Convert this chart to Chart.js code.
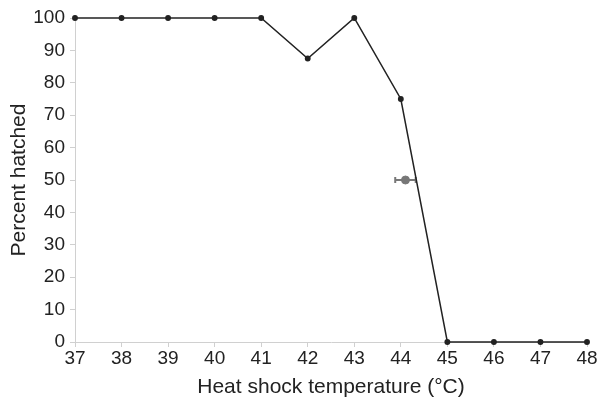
<!DOCTYPE html>
<html>
<head>
<meta charset="utf-8">
<script src="https://cdn.jsdelivr.net/npm/chart.js@4"></script>
<style>
  html, body { margin:0; padding:0; background:#fff; }
  #wrap { width:599px; height:404px; }
</style>
</head>
<body>
<div id="wrap"><canvas id="graf"></canvas></div>
<script>
// temperatures (°C) and percent hatched
const temps = [37, 38, 39, 40, 41, 42, 43, 44, 45, 46, 47, 48];
const hatched = [100, 100, 100, 100, 100, 87.5, 100, 75, 0, 0, 0, 0];
// LT50 estimate with horizontal error
const lt50X = [44.1];
const lt50Y = [50];
const lt50Err = [0.22];

const FONTE = "'Liberation Sans', Arial, sans-serif";
const EIXO = '#d0d0d0';

// horizontal error bar drawn under the gray point
const errorBars = {
    id: 'errorBars',
    beforeDatasetsDraw(chart){
        const ctx = chart.ctx;
        const xs = chart.scales.x, ys = chart.scales.y;
        ctx.save();
        ctx.strokeStyle = '#777';
        ctx.lineWidth = 2;
        for(let i = 0; i < lt50X.length; i++){
            let x1 = xs.getPixelForValue(lt50X[i] - lt50Err[i]);
            let x2 = xs.getPixelForValue(lt50X[i] + lt50Err[i]);
            let y = ys.getPixelForValue(lt50Y[i]);
            ctx.beginPath();
            ctx.moveTo(x1, y); ctx.lineTo(x2, y);
            ctx.moveTo(x1, y - 3); ctx.lineTo(x1, y + 3);
            ctx.moveTo(x2, y - 3); ctx.lineTo(x2, y + 3);
            ctx.stroke();
        }
        ctx.restore();
    }
};

let config = {
    type: 'line',
    data: {
        datasets: [{
            label: 'Percent hatched',
            data: temps.map((t, i) => ({x: t, y: hatched[i]})),
            borderColor: '#222',
            backgroundColor: '#222',
            borderWidth: 1.5,
            pointRadius: 2.2,
            tension: 0,
            clip: false
        },
        {
            label: 'LT50',
            data: lt50X.map((t, i) => ({x: t, y: lt50Y[i]})),
            showLine: false,
            borderColor: '#777',
            backgroundColor: '#777',
            pointRadius: 4,
            clip: false
        }]
    },
    options: {
        responsive: true,
        maintainAspectRatio: false,
        animation: false,
        layout: { padding: { top: 18, right: 12, left: 0, bottom: 0 } },
        scales: {
            x: {
                type: 'linear',
                min: 37, max: 48,
                afterFit: (s) => { s.height = 62; },
                border: { color: EIXO, width: 1 },
                grid: { drawOnChartArea: false, color: EIXO, tickLength: 5 },
                ticks: { stepSize: 1, color: '#222', font: { family: FONTE, size: 19 }, padding: 0 },
                title: { display: true, text: 'Heat shock temperature (°C)', color: '#222',
                         font: { family: FONTE, size: 21 }, padding: { top: 0, bottom: 4 } }
            },
            y: {
                min: 0, max: 100,
                afterFit: (s) => { s.width = 75; },
                border: { color: EIXO, width: 1 },
                grid: { drawOnChartArea: false, color: EIXO, tickLength: 5 },
                ticks: { stepSize: 10, color: '#222', font: { family: FONTE, size: 19 }, padding: 5 },
                title: { display: true, text: 'Percent hatched', color: '#222',
                         font: { family: FONTE, size: 21 }, padding: { top: 7, bottom: 0 } }
            }
        },
        plugins: {
            legend: { display: false },
            tooltip: { enabled: false }
        }
    },
    plugins: [errorBars]
};

const grafico = new Chart(document.getElementById('graf'), config);
</script>
</body>
</html>
